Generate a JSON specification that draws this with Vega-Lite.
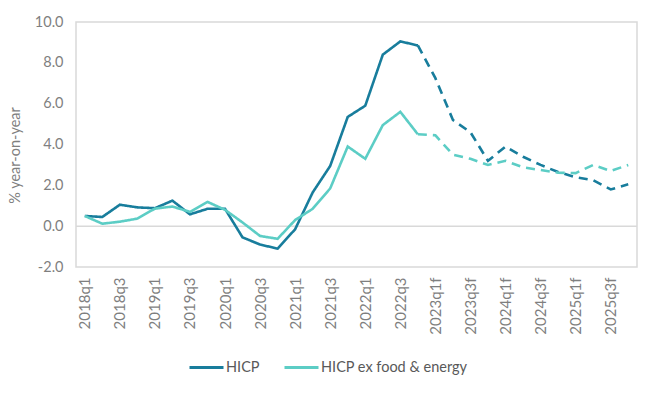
{
  "$schema": "https://vega.github.io/schema/vega-lite/v6.json",
  "width": 561,
  "height": 245,
  "autosize": {"type": "none"},
  "padding": {"left": 76, "top": 22, "right": 13, "bottom": 127},
  "background": "white",
  "config": {
    "font": "Lato",
    "view": {"stroke": "#d9d9d9", "strokeWidth": 1.5},
    "axis": {"labelFont": "Lato", "titleFont": "Lato", "labelColor": "#7f7f7f", "titleColor": "#7f7f7f"}
  },
  "data": {
    "values": [
      {"i": 0, "q": "2018q1", "series": "HICP", "seg": "actual", "v": 0.5},
      {"i": 1, "q": "2018q2", "series": "HICP", "seg": "actual", "v": 0.45},
      {"i": 2, "q": "2018q3", "series": "HICP", "seg": "actual", "v": 1.05},
      {"i": 3, "q": "2018q4", "series": "HICP", "seg": "actual", "v": 0.92},
      {"i": 4, "q": "2019q1", "series": "HICP", "seg": "actual", "v": 0.88},
      {"i": 5, "q": "2019q2", "series": "HICP", "seg": "actual", "v": 1.25},
      {"i": 6, "q": "2019q3", "series": "HICP", "seg": "actual", "v": 0.58},
      {"i": 7, "q": "2019q4", "series": "HICP", "seg": "actual", "v": 0.85},
      {"i": 8, "q": "2020q1", "series": "HICP", "seg": "actual", "v": 0.85},
      {"i": 9, "q": "2020q2", "series": "HICP", "seg": "actual", "v": -0.55},
      {"i": 10, "q": "2020q3", "series": "HICP", "seg": "actual", "v": -0.9},
      {"i": 11, "q": "2020q4", "series": "HICP", "seg": "actual", "v": -1.1},
      {"i": 12, "q": "2021q1", "series": "HICP", "seg": "actual", "v": -0.15},
      {"i": 13, "q": "2021q2", "series": "HICP", "seg": "actual", "v": 1.65},
      {"i": 14, "q": "2021q3", "series": "HICP", "seg": "actual", "v": 2.95},
      {"i": 15, "q": "2021q4", "series": "HICP", "seg": "actual", "v": 5.35},
      {"i": 16, "q": "2022q1", "series": "HICP", "seg": "actual", "v": 5.9},
      {"i": 17, "q": "2022q2", "series": "HICP", "seg": "actual", "v": 8.4},
      {"i": 18, "q": "2022q3", "series": "HICP", "seg": "actual", "v": 9.05},
      {"i": 19, "q": "2022q4", "series": "HICP", "seg": "actual", "v": 8.85},
      {"i": 19, "q": "2022q4", "series": "HICP", "seg": "forecast", "v": 8.85},
      {"i": 20, "q": "2023q1f", "series": "HICP", "seg": "forecast", "v": 7.25},
      {"i": 21, "q": "2023q2f", "series": "HICP", "seg": "forecast", "v": 5.2},
      {"i": 22, "q": "2023q3f", "series": "HICP", "seg": "forecast", "v": 4.6},
      {"i": 23, "q": "2023q4f", "series": "HICP", "seg": "forecast", "v": 3.2},
      {"i": 24, "q": "2024q1f", "series": "HICP", "seg": "forecast", "v": 3.9},
      {"i": 25, "q": "2024q2f", "series": "HICP", "seg": "forecast", "v": 3.4},
      {"i": 26, "q": "2024q3f", "series": "HICP", "seg": "forecast", "v": 3.0},
      {"i": 27, "q": "2024q4f", "series": "HICP", "seg": "forecast", "v": 2.65},
      {"i": 28, "q": "2025q1f", "series": "HICP", "seg": "forecast", "v": 2.4},
      {"i": 29, "q": "2025q2f", "series": "HICP", "seg": "forecast", "v": 2.25},
      {"i": 30, "q": "2025q3f", "series": "HICP", "seg": "forecast", "v": 1.8},
      {"i": 31, "q": "2025q4f", "series": "HICP", "seg": "forecast", "v": 2.05},
      {"i": 0, "q": "2018q1", "series": "HICP ex food & energy", "seg": "actual", "v": 0.5},
      {"i": 1, "q": "2018q2", "series": "HICP ex food & energy", "seg": "actual", "v": 0.12},
      {"i": 2, "q": "2018q3", "series": "HICP ex food & energy", "seg": "actual", "v": 0.22},
      {"i": 3, "q": "2018q4", "series": "HICP ex food & energy", "seg": "actual", "v": 0.37},
      {"i": 4, "q": "2019q1", "series": "HICP ex food & energy", "seg": "actual", "v": 0.86},
      {"i": 5, "q": "2019q2", "series": "HICP ex food & energy", "seg": "actual", "v": 0.96},
      {"i": 6, "q": "2019q3", "series": "HICP ex food & energy", "seg": "actual", "v": 0.7},
      {"i": 7, "q": "2019q4", "series": "HICP ex food & energy", "seg": "actual", "v": 1.19},
      {"i": 8, "q": "2020q1", "series": "HICP ex food & energy", "seg": "actual", "v": 0.8},
      {"i": 9, "q": "2020q2", "series": "HICP ex food & energy", "seg": "actual", "v": 0.18},
      {"i": 10, "q": "2020q3", "series": "HICP ex food & energy", "seg": "actual", "v": -0.48},
      {"i": 11, "q": "2020q4", "series": "HICP ex food & energy", "seg": "actual", "v": -0.62},
      {"i": 12, "q": "2021q1", "series": "HICP ex food & energy", "seg": "actual", "v": 0.3},
      {"i": 13, "q": "2021q2", "series": "HICP ex food & energy", "seg": "actual", "v": 0.85},
      {"i": 14, "q": "2021q3", "series": "HICP ex food & energy", "seg": "actual", "v": 1.85},
      {"i": 15, "q": "2021q4", "series": "HICP ex food & energy", "seg": "actual", "v": 3.9},
      {"i": 16, "q": "2022q1", "series": "HICP ex food & energy", "seg": "actual", "v": 3.3},
      {"i": 17, "q": "2022q2", "series": "HICP ex food & energy", "seg": "actual", "v": 4.95},
      {"i": 18, "q": "2022q3", "series": "HICP ex food & energy", "seg": "actual", "v": 5.6},
      {"i": 19, "q": "2022q4", "series": "HICP ex food & energy", "seg": "actual", "v": 4.5},
      {"i": 19, "q": "2022q4", "series": "HICP ex food & energy", "seg": "forecast", "v": 4.5},
      {"i": 20, "q": "2023q1f", "series": "HICP ex food & energy", "seg": "forecast", "v": 4.45},
      {"i": 21, "q": "2023q2f", "series": "HICP ex food & energy", "seg": "forecast", "v": 3.5},
      {"i": 22, "q": "2023q3f", "series": "HICP ex food & energy", "seg": "forecast", "v": 3.3},
      {"i": 23, "q": "2023q4f", "series": "HICP ex food & energy", "seg": "forecast", "v": 3.0},
      {"i": 24, "q": "2024q1f", "series": "HICP ex food & energy", "seg": "forecast", "v": 3.2},
      {"i": 25, "q": "2024q2f", "series": "HICP ex food & energy", "seg": "forecast", "v": 2.88},
      {"i": 26, "q": "2024q3f", "series": "HICP ex food & energy", "seg": "forecast", "v": 2.75},
      {"i": 27, "q": "2024q4f", "series": "HICP ex food & energy", "seg": "forecast", "v": 2.62},
      {"i": 28, "q": "2025q1f", "series": "HICP ex food & energy", "seg": "forecast", "v": 2.6},
      {"i": 29, "q": "2025q2f", "series": "HICP ex food & energy", "seg": "forecast", "v": 3.0},
      {"i": 30, "q": "2025q3f", "series": "HICP ex food & energy", "seg": "forecast", "v": 2.7},
      {"i": 31, "q": "2025q4f", "series": "HICP ex food & energy", "seg": "forecast", "v": 3.0}
    ]
  },
  "layer": [
    {
      "data": {"values": [{"z": 0}]},
      "mark": {"type": "rule", "color": "#d9d9d9", "strokeWidth": 1.5},
      "encoding": {"y": {"field": "z", "type": "quantitative", "scale": {"domain": [-2, 10]}}}
    },
    {
      "mark": {"type": "line", "strokeWidth": 2.6, "strokeJoin": "miter", "strokeCap": "butt"},
      "encoding": {
        "x": {
          "field": "q",
          "type": "ordinal",
          "scale": {"type": "point", "padding": 0.5, "domain": ["2018q1","2018q2","2018q3","2018q4","2019q1","2019q2","2019q3","2019q4","2020q1","2020q2","2020q3","2020q4","2021q1","2021q2","2021q3","2021q4","2022q1","2022q2","2022q3","2022q4","2023q1f","2023q2f","2023q3f","2023q4f","2024q1f","2024q2f","2024q3f","2024q4f","2025q1f","2025q2f","2025q3f","2025q4f"]},
          "axis": {
            "title": null,
            "values": ["2018q1","2018q3","2019q1","2019q3","2020q1","2020q3","2021q1","2021q3","2022q1","2022q3","2023q1f","2023q3f","2024q1f","2024q3f","2025q1f","2025q3f"],
            "labelAngle": -90,
            "labelFontSize": 15,
            "labelPadding": 10,
            "ticks": false,
            "domain": false,
            "grid": false
          }
        },
        "y": {
          "field": "v",
          "type": "quantitative",
          "scale": {"domain": [-2, 10], "nice": false},
          "axis": {
            "title": "% year-on-year",
            "titleFontSize": 14.5,
            "titleFontWeight": "normal",
            "titleX": -61,
            "titleY": 133,
            "titleAngle": -90,
            "titleAlign": "center",
            "titleBaseline": "middle",
            "values": [-2, 0, 2, 4, 6, 8, 10],
            "labelExpr": "replace(format(datum.value, '.1f'), '\u2212', '-')",
            "labelFontSize": 14.5,
            "labelPadding": 13,
            "ticks": false,
            "domain": false,
            "grid": false
          }
        },
        "color": {
          "field": "series",
          "type": "nominal",
          "scale": {"domain": ["HICP", "HICP ex food & energy"], "range": ["#187d9c", "#5ccdc5"]},
          "legend": {
            "title": null,
            "orient": "none",
            "legendX": 112,
            "legendY": 327,
            "direction": "horizontal",
            "symbolType": "stroke",
            "symbolStrokeWidth": 3,
            "symbolSize": 1156,
            "labelFont": "Lato",
            "labelFontSize": 14.5,
            "labelColor": "#595959",
            "columnPadding": 18,
            "labelOffset": 1
          }
        },
        "strokeDash": {
          "field": "seg",
          "type": "nominal",
          "scale": {"domain": ["actual", "forecast"], "range": [[1, 0], [9, 6]]},
          "legend": null
        },
        "detail": {"field": "seg"},
        "order": {"field": "i", "type": "quantitative"}
      }
    }
  ]
}
